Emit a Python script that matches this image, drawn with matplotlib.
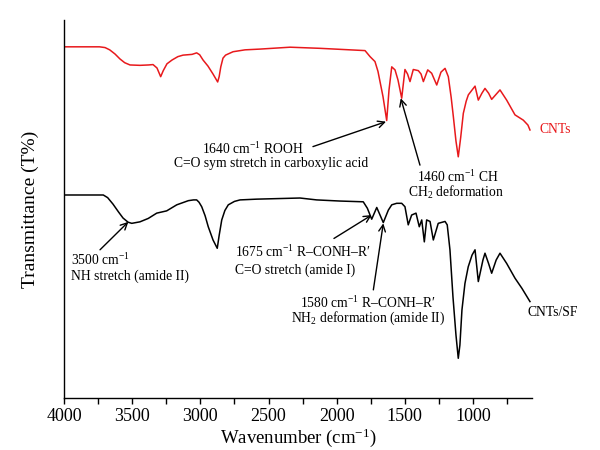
import matplotlib
matplotlib.use("Agg")
import matplotlib.pyplot as plt
from matplotlib.ticker import MultipleLocator

plt.rcParams['font.family'] = ['Liberation Serif', 'DejaVu Serif']
plt.rcParams['mathtext.fontset'] = 'custom'
plt.rcParams['mathtext.rm'] = 'Liberation Serif'
plt.rcParams['mathtext.it'] = 'Liberation Serif:italic'

# CNTs spectrum (wavenumber, transmittance in arbitrary %)
cnt_wn = [4000, 3740, 3699, 3665, 3626, 3590, 3555, 3516, 3443, 3380, 3347, 3318, 3291, 3272,
          3245, 3208, 3165, 3127, 3061, 3027, 3005, 2980, 2944, 2907, 2873, 2862, 2850, 2834,
          2815, 2797, 2760, 2672, 2562, 2342, 2122, 1902, 1792,
          1755, 1719, 1697, 1660, 1633, 1616, 1596, 1572, 1550, 1523, 1499, 1480, 1462, 1438,
          1401, 1381, 1364, 1332, 1303, 1266, 1235, 1205, 1181, 1160, 1144, 1125, 1108, 1090,
          1071, 1050, 1034, 985, 961, 935, 912, 885, 863, 802, 753, 692, 631, 597, 582]
cnt_t = [92.9, 92.9, 92.7, 92.1, 91.0, 89.7, 88.7, 88.1, 88.0, 88.1, 88.2, 87.3, 85.0, 86.6,
         88.4, 89.4, 90.3, 90.7, 90.9, 91.3, 90.8, 89.4, 87.8, 85.7, 83.6, 85.0, 87.6, 89.9,
         90.7, 91.0, 91.6, 92.1, 92.3, 92.8, 92.5, 92.1, 91.9,
         90.3, 89.0, 86.4, 79.7, 73.4, 81.5, 87.6, 86.8, 84.1, 79.3, 86.9, 85.7, 83.7, 86.9,
         86.6, 85.7, 83.7, 86.8, 85.9, 82.8, 86.2, 87.2, 85.0, 79.5, 74.4, 68.0, 63.8, 69.0,
         75.3, 78.5, 80.2, 82.5, 78.8, 80.6, 81.9, 80.6, 79.0, 81.5, 78.8, 74.9, 73.5, 72.2, 70.9]

# CNTs/SF spectrum
sf_wn = [4000, 3712, 3680, 3641, 3600, 3567, 3530, 3503, 3443, 3382, 3320, 3247, 3173, 3088,
         3050, 3027, 3010, 2990, 2965, 2942, 2907, 2876, 2862, 2843, 2820, 2795, 2750, 2709,
         2587, 2269, 2147, 1976, 1805, 1775, 1743, 1706, 1658,
         1621, 1596, 1560, 1523, 1499, 1475, 1450, 1418, 1394, 1376, 1357, 1340, 1315, 1291,
         1255, 1205, 1189, 1169, 1147, 1125, 1108, 1096, 1081, 1059, 1035, 1007, 985, 961,
         927, 912, 885, 863, 830, 802, 753, 692, 641, 582]
sf_t = [53.7, 53.7, 53.0, 51.3, 49.2, 47.6, 46.5, 46.2, 46.6, 47.5, 48.9, 49.5, 51.1, 52.2,
        52.4, 52.4, 51.8, 50.6, 48.2, 45.3, 41.8, 39.6, 43.0, 47.1, 49.6, 51.1, 52.0, 52.4,
        52.6, 52.9, 52.4, 52.1, 51.9, 50.2, 47.3, 50.4, 46.4,
        49.7, 51.1, 51.5, 51.5, 50.6, 45.8, 48.4, 48.9, 45.3, 47.1, 41.3, 47.1, 46.7, 41.8,
        46.2, 46.7, 45.8, 39.2, 26.8, 16.7, 10.5, 14.0, 23.3, 30.3, 34.7, 37.8, 39.2, 30.8,
        36.5, 38.3, 35.5, 33.0, 36.5, 38.3, 35.6, 31.7, 29.0, 25.5]

xticks = [4000, 3500, 3000, 2500, 2000, 1500, 1000]

fig = plt.figure(figsize=(6, 4.5), dpi=100)
ax = fig.add_axes([0.1067, 0.1156, 0.78, 0.84])

red = '#e8191c'
ax.plot(cnt_wn, cnt_t, color=red, lw=1.1)
ax.plot(sf_wn, sf_t, color='black', lw=1.1)

ax.set_xlim(4000, 567)
ax.set_ylim(0, 100)
ax.set_xticks(xticks)
ax.set_xticklabels([str(v) for v in xticks], fontsize=13)
ax.xaxis.set_minor_locator(MultipleLocator(250))
ax.tick_params(axis='x', which='both', direction='out', length=4, width=1, pad=3)
ax.set_yticks([])
for s in ['top', 'right']:
    ax.spines[s].set_visible(False)
for s in ['left', 'bottom']:
    ax.spines[s].set_linewidth(1.0)

ax.set_xlabel('Wavenumber (cm$^{-1}$)', fontsize=13.5, labelpad=1)
ax.set_ylabel('Transmittance (T%)', fontsize=14, labelpad=18)

ap = dict(arrowstyle='->', color='black', lw=1.0, shrinkA=0, shrinkB=0,
          mutation_scale=12)
fs = 9.8

# 1640 annotation
ax.annotate('', xy=(1638, 73.1), xytext=(2174, 66.5), arrowprops=ap)
ax.text(2614, 65.9, '1640 cm$^{-1}$ ROOH', ha='center', va='center', fontsize=fs)
ax.text(2482, 61.9, 'C=O sym stretch in carboxylic acid', ha='center', va='center', fontsize=fs)

# 1460 annotation
ax.annotate('', xy=(1530, 79.3), xytext=(1389, 61.6), arrowprops=ap)
ax.text(1114, 58.5, '1460 cm$^{-1}$ CH', ha='center', va='center', fontsize=fs)
ax.text(1128, 54.3, 'CH$_2$ deformation', ha='center', va='center', fontsize=fs)

# 3500 annotation
ax.annotate('', xy=(3528, 46.6), xytext=(3736, 39.2), arrowprops=ap)
ax.text(3949, 36.5, '3500 cm$^{-1}$', ha='left', va='center', fontsize=fs)
ax.text(3949, 32.3, 'NH stretch (amide II)', ha='left', va='center', fontsize=fs)

# 1675 annotation
ax.annotate('', xy=(1743, 48.4), xytext=(2020, 42.2), arrowprops=ap)
ax.text(2746, 38.7, '1675 cm$^{-1}$ R\u2013CONH\u2013R\u2032', ha='left', va='center', fontsize=fs)
ax.text(2746, 33.9, 'C=O stretch (amide I)', ha='left', va='center', fontsize=fs)

# 1580 annotation
ax.annotate('', xy=(1658, 46.2), xytext=(1731, 28.6), arrowprops=ap)
ax.text(1770, 25.1, '1580 cm$^{-1}$ R\u2013CONH\u2013R\u2032', ha='center', va='center', fontsize=fs)
ax.text(1770, 21.1, 'NH$_2$ deformation (amide II)', ha='center', va='center', fontsize=fs)

ax.text(509, 70.9, 'CNTs', color=red, ha='left', va='center', fontsize=fs, clip_on=False)
ax.text(597, 22.5, 'CNTs/SF', color='black', ha='left', va='center', fontsize=fs, clip_on=False)

fig.savefig('out.png', dpi=100)
